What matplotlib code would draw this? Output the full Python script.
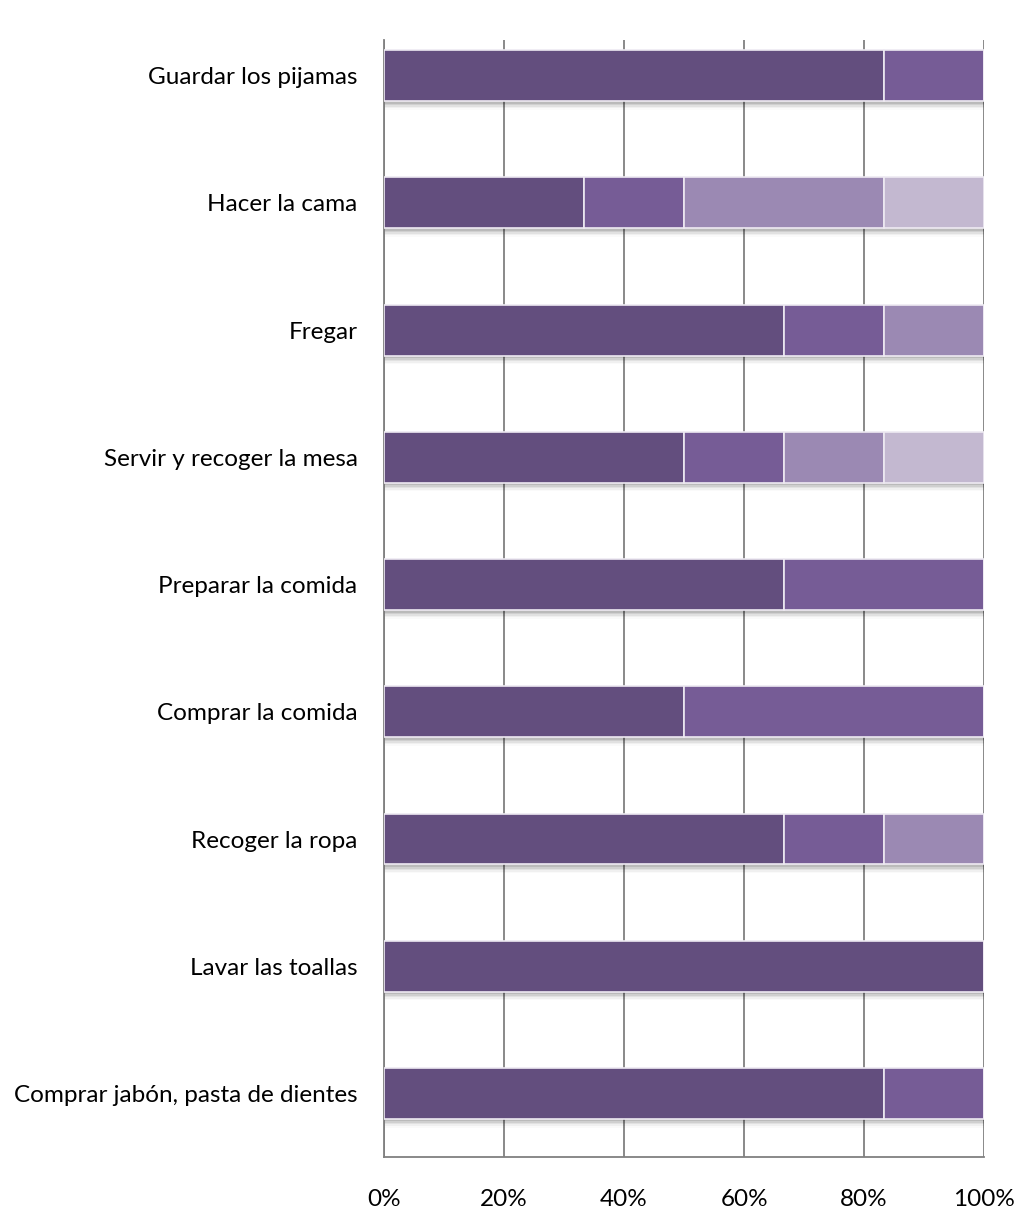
import matplotlib
matplotlib.use("Agg")
import matplotlib.pyplot as plt
import numpy as np

plt.rcParams['font.family'] = ['Lato', 'DejaVu Sans']

categories = [
    "Guardar los pijamas",
    "Hacer la cama",
    "Fregar",
    "Servir y recoger la mesa",
    "Preparar la comida",
    "Comprar la comida",
    "Recoger la ropa",
    "Lavar las toallas",
    "Comprar jabón, pasta de dientes",
]
# share of answers per category (fractions of 1), four response levels
level1 = [5/6, 2/6, 4/6, 3/6, 4/6, 3/6, 4/6, 6/6, 5/6]
level2 = [1/6, 1/6, 1/6, 1/6, 2/6, 3/6, 1/6, 0, 1/6]
level3 = [0, 2/6, 1/6, 1/6, 0, 0, 1/6, 0, 0]
level4 = [0, 1/6, 0, 1/6, 0, 0, 0, 0, 0]
tick_labels = ["0%", "20%", "40%", "60%", "80%", "100%"]

colors = ["#634E7E", "#765C96", "#9B89B3", "#C3B8D0"]

fig = plt.figure(figsize=(10.21, 12.15), dpi=100)
ax = fig.add_axes([0.376, 0.0477, 0.588, 0.9193])

y = np.arange(len(categories))
h = 0.4
series = [level1, level2, level3, level4]

# soft drop shadow under each bar
total = np.sum(series, axis=0)
for k, a in enumerate([0.10, 0.08, 0.06, 0.04, 0.02]):
    ax.barh(y + 0.02 + 0.012 * k, total, height=h, left=0, color="black",
            alpha=a, linewidth=0, zorder=2)

left = np.zeros(len(categories))
for vals, c in zip(series, colors):
    vals = np.array(vals)
    ax.barh(y, vals, height=h, left=left, color=c, edgecolor="#EEEAF2",
            linewidth=1.2, zorder=3)
    left += vals

ax.set_xlim(0, 1)
ax.set_ylim(8.5, -0.28)
ax.set_xticks(np.linspace(0, 1, 6))
ax.set_xticklabels(tick_labels, fontsize=17.5)
ax.set_yticks(y)
ax.set_yticklabels(categories, fontsize=17.5)
ax.tick_params(axis='both', length=0)
ax.tick_params(axis='x', pad=23)
ax.tick_params(axis='y', pad=19)

ax.grid(axis='x', color="#808080", linewidth=1.3, zorder=1)
ax.set_axisbelow(True)
for s in ["top", "right"]:
    ax.spines[s].set_visible(False)
for s in ["left", "bottom"]:
    ax.spines[s].set_color("#808080")
    ax.spines[s].set_linewidth(1.3)

fig.savefig("out.png", dpi=100, facecolor="white")
